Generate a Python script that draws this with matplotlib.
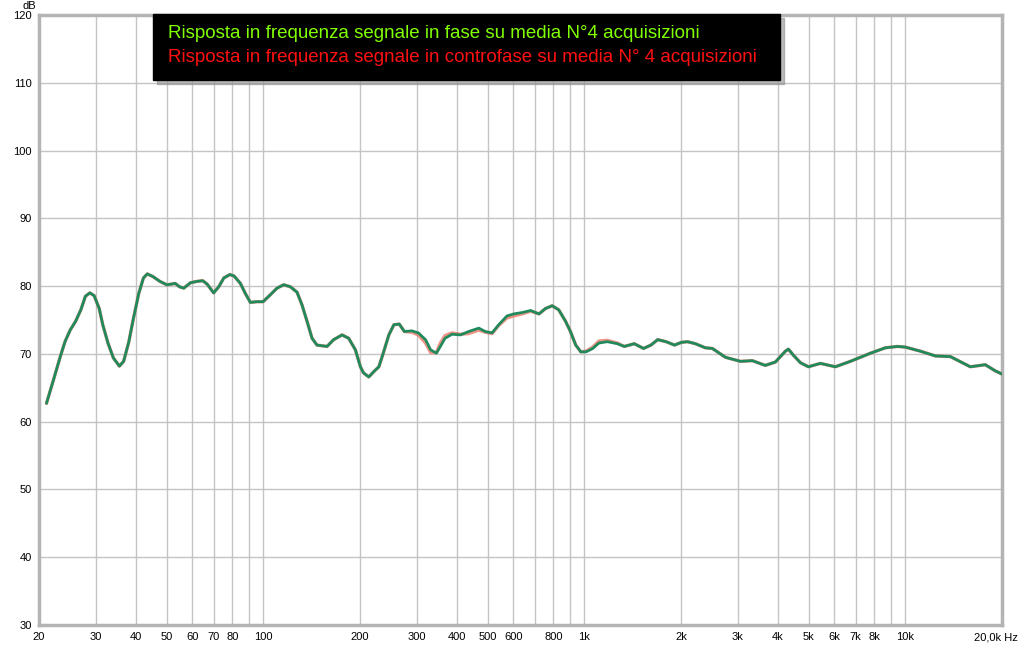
import matplotlib
matplotlib.use("Agg")
import matplotlib.pyplot as plt
from matplotlib.patches import Rectangle
from matplotlib import font_manager

# frequency response (Hz, dB)
freq = [21.1, 22.2, 23.3, 24.1, 25.0, 26.0, 27.0, 27.9, 28.8, 29.7,
        30.8, 31.6, 32.8, 34.1, 35.6, 36.7, 38.1, 39.4, 40.9, 42.3,
        43.5, 45.3, 47.6, 50.0, 51.8, 53.1, 54.8, 56.5, 59.3, 62.2,
        64.7, 66.8, 70.0, 72.6, 75.3, 78.6, 81.0, 84.8, 87.9, 91.1,
        95.6, 99.8, 105, 110.3, 115.7, 121.4, 127.3, 132, 136.8, 141.8,
        146.9, 157.9, 165.6, 175.9, 184.4, 193.5, 200.6, 205, 213, 221,
        229, 237, 246, 255, 265, 275, 290, 304, 320, 332,
        346, 356, 368, 387, 411, 436, 469, 491, 516, 541,
        574, 603, 640, 680, 722, 757, 794, 832, 874, 905,
        940, 975, 1012, 1062, 1110, 1179, 1267, 1331, 1431, 1528,
        1612, 1692, 1797, 1909, 2006, 2094, 2218, 2382, 2505, 2750,
        3062, 3337, 3661, 3937, 4229, 4322, 4480, 4710, 4988, 5436,
        6050, 6742, 7784, 8667, 9447, 10000, 11140, 12400, 13810, 15930,
        17740, 19050, 20050]
in_fase = [62.7, 66.2, 69.6, 71.8, 73.5, 74.8, 76.5, 78.5, 79.0, 78.6,
           76.7, 74.3, 71.6, 69.4, 68.2, 68.9, 71.8, 75.3, 78.9, 81.2,
           81.8, 81.4, 80.7, 80.2, 80.3, 80.4, 79.9, 79.7, 80.5, 80.7,
           80.8, 80.3, 79.0, 79.9, 81.2, 81.7, 81.5, 80.4, 78.9, 77.6,
           77.7, 77.7, 78.7, 79.7, 80.2, 79.9, 79.1, 77.2, 74.8, 72.3,
           71.3, 71.1, 72.1, 72.8, 72.3, 70.6, 68.1, 67.2, 66.6, 67.4,
           68.1, 70.3, 72.8, 74.3, 74.4, 73.3, 73.4, 73.1, 72.1, 70.6,
           70.1, 71.1, 72.3, 72.9, 72.8, 73.3, 73.8, 73.3, 73.1, 74.3,
           75.6, 75.9, 76.1, 76.4, 75.9, 76.7, 77.1, 76.5, 74.8, 73.3,
           71.3, 70.3, 70.3, 70.8, 71.6, 71.8, 71.5, 71.1, 71.5, 70.8,
           71.3, 72.1, 71.8, 71.3, 71.7, 71.8, 71.5, 70.9, 70.8, 69.5,
           68.9, 69.0, 68.3, 68.8, 70.4, 70.7, 69.8, 68.7, 68.1, 68.6,
           68.1, 68.9, 70.1, 70.9, 71.1, 71.0, 70.4, 69.7, 69.6, 68.1,
           68.4, 67.5, 67.0]
contro_fase = [62.7, 66.2, 69.6, 71.8, 73.5, 74.8, 76.5, 78.5, 79.0, 78.6,
               76.7, 74.3, 71.6, 69.4, 68.2, 68.9, 71.8, 75.3, 78.9, 81.2,
               81.8, 81.4, 80.7, 80.2, 80.3, 80.4, 79.9, 79.7, 80.5, 80.7,
               80.8, 80.3, 79.0, 79.9, 81.2, 81.7, 81.5, 80.4, 78.9, 77.6,
               77.7, 77.7, 78.7, 79.7, 80.2, 79.9, 79.1, 77.2, 74.8, 72.3,
               71.3, 71.1, 72.1, 72.8, 72.3, 70.6, 68.1, 67.2, 66.6, 67.4,
               68.1, 70.3, 72.8, 74.3, 74.4, 73.3, 73.2, 72.8, 71.6, 70.2,
               70.2, 71.6, 72.7, 73.1, 72.9, 73.0, 73.5, 73.2, 73.0, 74.2,
               75.3, 75.6, 75.9, 76.3, 75.9, 76.7, 77.1, 76.5, 74.8, 73.3,
               71.3, 70.3, 70.4, 71.0, 71.9, 72.0, 71.6, 71.1, 71.5, 70.8,
               71.3, 72.1, 71.8, 71.3, 71.7, 71.8, 71.5, 70.9, 70.8, 69.5,
               68.9, 69.0, 68.3, 68.8, 70.4, 70.7, 69.8, 68.7, 68.1, 68.6,
               68.1, 68.9, 70.1, 70.9, 71.1, 71.0, 70.4, 69.7, 69.6, 68.1,
               68.4, 67.5, 67.0]

grid_freqs = [20, 30, 40, 50, 60, 70, 80, 90, 100, 200, 300, 400, 500, 600,
              700, 800, 900, 1000, 2000, 3000, 4000, 5000, 6000, 7000, 8000,
              9000, 10000]
tick_freqs = [20, 30, 40, 50, 60, 70, 80, 100, 200, 300, 400, 500, 600, 800,
              1000, 2000, 3000, 4000, 5000, 6000, 7000, 8000, 10000]
tick_labels = ["20", "30", "40", "50", "60", "70", "80", "100", "200", "300",
               "400", "500", "600", "800", "1k", "2k", "3k", "4k", "5k", "6k",
               "7k", "8k", "10k"]
y_ticks = [30, 40, 50, 60, 70, 80, 90, 100, 110, 120]

names = {f.name for f in font_manager.fontManager.ttflist}
base = "Liberation Sans" if "Liberation Sans" in names else "DejaVu Sans"
plt.rcParams['font.family'] = [base, 'DejaVu Sans']

fig = plt.figure(figsize=(10.2, 6.47), dpi=100)
ax = fig.add_axes([39/1020, 22/647, 963/1020, 610/647])

ax.set_xscale('log')
ax.set_xlim(20, 20000)
ax.set_ylim(30, 120)
for f in grid_freqs:
    ax.axvline(f, color='#c4c4c4', lw=1, zorder=1)
for v in y_ticks:
    ax.axhline(v, color='#c4c4c4', lw=1, zorder=1)

ax.plot(freq, contro_fase, color='#e8705f', lw=2.4, alpha=0.75, zorder=3,
        solid_capstyle='round', solid_joinstyle='round')
ax.plot(freq, in_fase, color='#218a5c', lw=2.0, zorder=4,
        solid_capstyle='round', solid_joinstyle='round')

ax.set_xticks(tick_freqs)
ax.set_xticklabels(tick_labels)
ax.xaxis.set_minor_locator(matplotlib.ticker.NullLocator())
ax.set_yticks(y_ticks)
ax.tick_params(length=0, labelsize=8, colors='black')
ax.tick_params(axis='x', pad=5)
ax.tick_params(axis='y', pad=5)
fig.text(1018/1020, 1 - 637/647, "20,0k Hz", fontsize=8, ha='right', va='center')
fig.text(29/1020, 1 - 6/647, "dB", fontsize=8, ha='center', va='center')

for s in ax.spines.values():
    s.set_color('#b4b4b4')
    s.set_linewidth(2.5)

# legend box with shadow
fig.patches.append(Rectangle((157/1020, 1 - 84/647), 627/1020, 66/647,
                             transform=fig.transFigure, color='#909090',
                             alpha=0.6, zorder=5))
fig.patches.append(Rectangle((153/1020, 1 - 80/647), 627/1020, 66/647,
                             transform=fig.transFigure, color='black', zorder=6))
fig.text(168/1020, 1 - 34/647, "Risposta in frequenza segnale in fase su media N°4 acquisizioni",
         color='#80ff00', fontsize=13.5, va='center', zorder=7)
fig.text(168/1020, 1 - 58/647, "Risposta in frequenza segnale in controfase su media N° 4 acquisizioni",
         color='#ff1010', fontsize=13.5, va='center', zorder=7)

fig.savefig("out.png", dpi=100)
